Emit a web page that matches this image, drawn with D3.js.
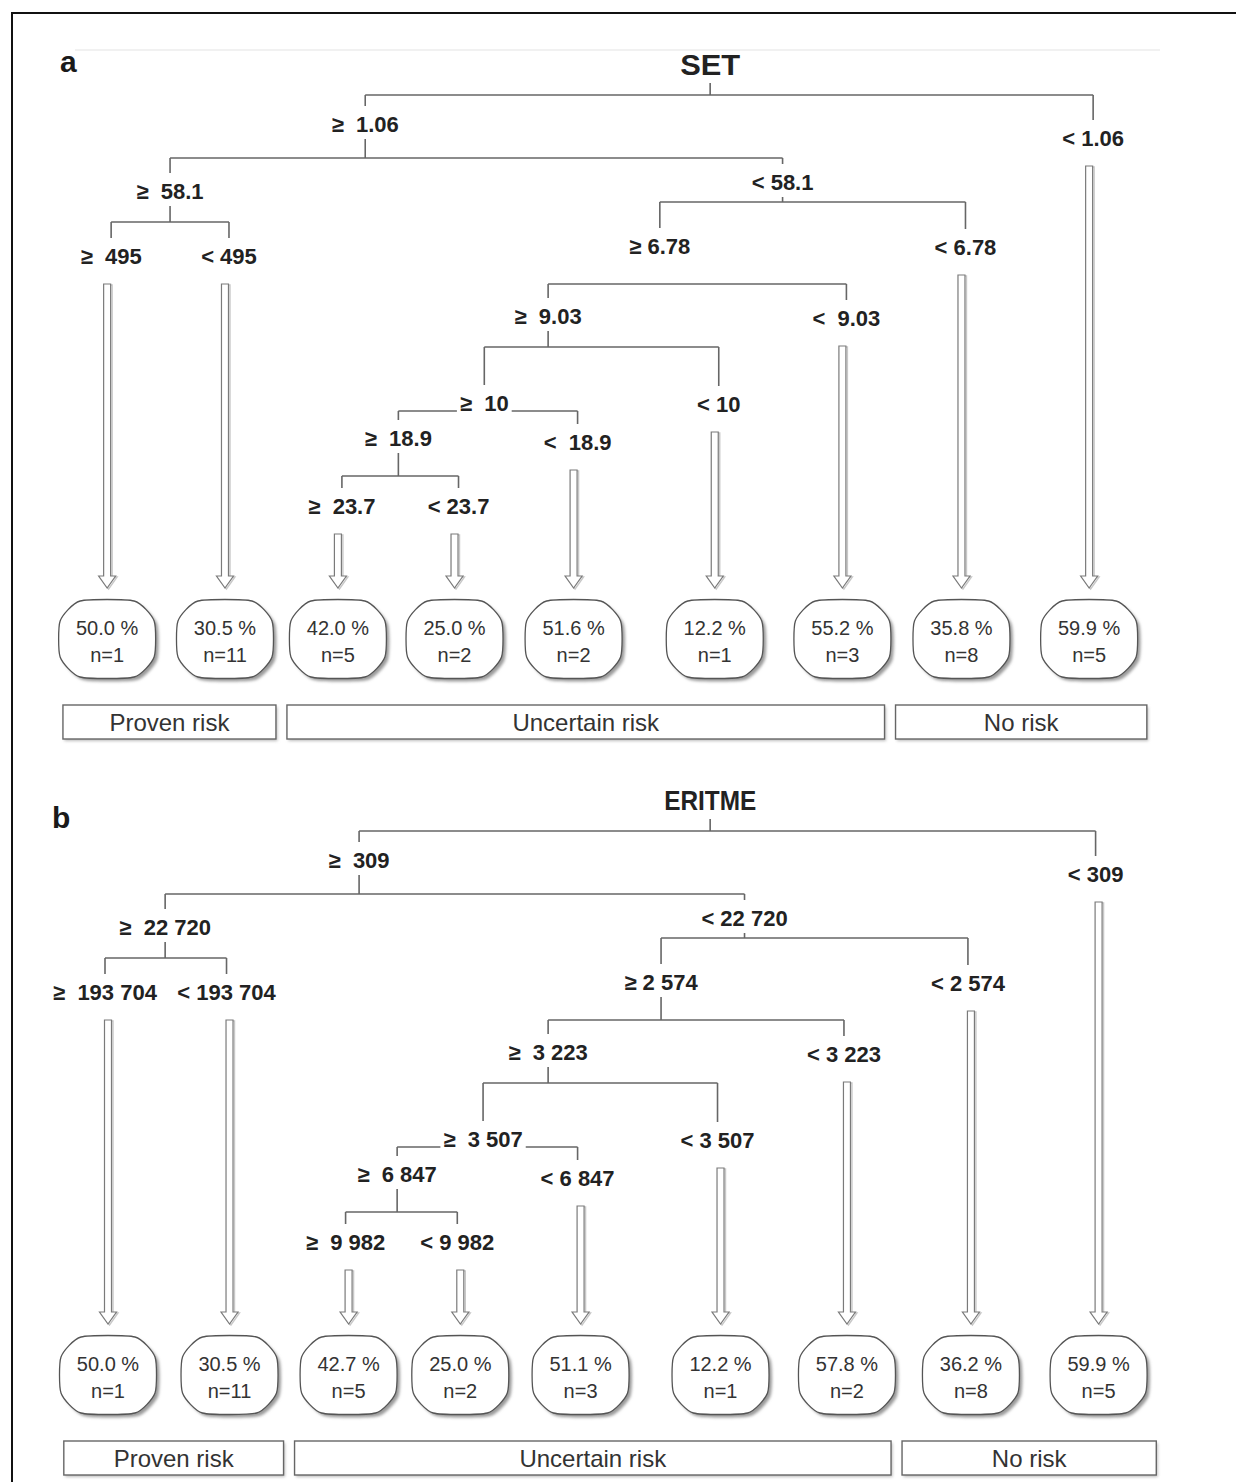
<!DOCTYPE html>
<html>
<head>
<meta charset="utf-8">
<script src="https://cdn.jsdelivr.net/npm/d3@7"></script>
<style>
  body { margin: 0; background: #fff; }
  svg text { font-family: "Liberation Sans", Arial, sans-serif; white-space: pre; }
</style>
</head>
<body>
<svg id="chart" width="1236" height="1482"></svg>
<script>
// tree shape, same for both panels: parent of each node (-1 = root)
var parentOf = [-1, 0, 0, 1, 1, 3, 3, 4, 4, 7, 7, 9, 9, 11, 11, 13, 13];
// terminal nodes, left to right
var leafNodes = [5, 6, 15, 16, 14, 12, 10, 8, 2];

var setLabels = ["SET", "\u2265  1.06", "< 1.06", "\u2265  58.1", "< 58.1", "\u2265  495", "< 495",
  "\u2265 6.78", "< 6.78", "\u2265  9.03", "<  9.03", "\u2265  10", "< 10", "\u2265  18.9", "<  18.9",
  "\u2265  23.7", "< 23.7"];
var setPct = [50.0, 30.5, 42.0, 25.0, 51.6, 12.2, 55.2, 35.8, 59.9];
var setN = [1, 11, 5, 2, 2, 1, 3, 8, 5];

var eritmeLabels = ["ERITME", "\u2265  309", "< 309", "\u2265  22 720", "< 22 720", "\u2265  193 704", "< 193 704",
  "\u2265 2 574", "< 2 574", "\u2265  3 223", "< 3 223", "\u2265  3 507", "< 3 507", "\u2265  6 847", "< 6 847",
  "\u2265  9 982", "< 9 982"];
var eritmePct = [50.0, 30.5, 42.7, 25.0, 51.1, 12.2, 57.8, 36.2, 59.9];
var eritmeN = [1, 11, 5, 2, 3, 1, 2, 8, 5];

var riskGroups = ["Proven risk", "Uncertain risk", "No risk"];
var riskFirstLeaf = [0, 2, 7];
var riskLastLeaf = [1, 6, 8];

// layout only: horizontal slot of every node in leaf-column units
var setCol = [4.93, 2.12, 8.05, 0.53, 5.52, 0.05, 1.01, 4.52, 7.01, 3.61, 6.04, 3.09, 5.0, 2.39, 3.85, 1.93, 2.88];
var eritmeCol = [4.93, 2.07, 8.07, 0.49, 5.21, 0.0, 0.99, 4.53, 7.03, 3.61, 6.02, 3.08, 4.99, 2.38, 3.85, 1.96, 2.87];
// label row and row of the bracket under each split (panel units)
var labelRow = [64, 124, 138, 191, 182, 256, 256, 246, 247, 316, 318, 403, 404, 438, 442, 506, 506];
var bracketRow = [95, 158, null, 222, 202, null, null, 284, null, 347, null, 411, null, 476, null, null, null];
// where the gap between two neighbouring risk boxes sits (fraction of the leaf step)
var riskGapAt = [0.5, 0.4];

var panels = [
  { tag: "a", tagX: 60, tagRow: 72, labels: setLabels, pct: setPct, n: setN, col: setCol,
    top: 0, arrowDx: -4, noStem: [7], titleSize: 30, titleLen: 60 },
  { tag: "b", tagX: 52, tagRow: 92, labels: eritmeLabels, pct: eritmePct, n: eritmeN, col: eritmeCol,
    top: 736, arrowDx: 3, noStem: [], titleSize: 28, titleLen: 92 }
];

var svg = d3.select("#chart");
var defs = svg.append("defs");
defs.append("filter").attr("id", "soft").append("feGaussianBlur").attr("stdDeviation", 1.4);

// frame of the figure
svg.append("rect").attr("x", 12).attr("y", 13).attr("width", 1240).attr("height", 1490)
  .attr("fill", "none").attr("stroke", "#111").attr("stroke-width", 2);
svg.append("line").attr("x1", 75).attr("x2", 1160).attr("y1", 50).attr("y2", 50)
  .attr("stroke", "#ececec").attr("stroke-width", 1.5);

var lineColor = "#666";

function leafBox(cx, top, w, h) {
  var c = 20, x0 = cx - w / 2, x1 = cx + w / 2, y1 = top + h;
  var pts = [[x0 + c, top], [x1 - c, top], [x1, top + c], [x1, y1 - c],
             [x1 - c, y1], [x0 + c, y1], [x0, y1 - c], [x0, top + c]];
  return d3.line().curve(d3.curveCardinalClosed.tension(0.4))(pts);
}

function arrowPath(ax, y0, tip) {
  var s = 3.5, hw = 8.5, hh = 12;
  return d3.line()([[ax - s, y0], [ax - s, tip - hh], [ax - hw, tip - hh], [ax, tip],
    [ax + hw, tip - hh], [ax + s, tip - hh], [ax + s, y0]]) + "Z";
}

function drawPanel(p) {
  var x = d3.scaleLinear().domain([0, 8]).range([105, 1087]);
  var y = d3.scaleLinear().domain([0, 740]).range([p.top, p.top + 740]);
  var g = svg.append("g");

  g.append("text").attr("x", p.tagX).attr("y", y(p.tagRow))
    .attr("font-size", 30).attr("font-weight", "bold").attr("fill", "#1a1a1a").text(p.tag);

  // split labels
  var widths = [];
  g.selectAll("text.split").data(p.labels).enter().append("text")
    .attr("class", "split")
    .attr("x", function (d, i) { return x(p.col[i]); })
    .attr("y", function (d, i) { return y(labelRow[i]); })
    .attr("dy", "0.36em")
    .attr("text-anchor", "middle")
    .attr("font-weight", "bold")
    .attr("font-size", function (d, i) { return i === 0 ? p.titleSize : 22; })
    .attr("fill", "#222")
    .text(function (d) { return d; })
    .each(function (d, i) {
      if (i === 0) {
        d3.select(this).attr("textLength", p.titleLen).attr("lengthAdjust", "spacingAndGlyphs");
      }
      widths[i] = this.getComputedTextLength();
    });

  var links = g.append("g").attr("stroke", lineColor).attr("stroke-width", 1.6).attr("fill", "none");

  bracketRow.forEach(function (br, i) {
    if (br === null) return;
    var kids = d3.range(parentOf.length).filter(function (k) { return parentOf[k] === i; });
    var cx = x(p.col[i]);
    var xl = x(p.col[kids[0]]), xr = x(p.col[kids[1]]);
    var close = br - labelRow[i] < 20;
    if (!close && p.noStem.indexOf(i) < 0) {
      links.append("line").attr("x1", cx).attr("x2", cx)
        .attr("y1", y(labelRow[i] + (i === 0 ? 19 : 15))).attr("y2", y(br));
    }
    if (close) {
      // bracket runs at label height: break it around the text
      var w = widths[i] / 2 + 3;
      links.append("line").attr("x1", xl).attr("x2", cx - w).attr("y1", y(br)).attr("y2", y(br));
      links.append("line").attr("x1", cx + w).attr("x2", xr).attr("y1", y(br)).attr("y2", y(br));
    } else {
      links.append("line").attr("x1", xl).attr("x2", xr).attr("y1", y(br)).attr("y2", y(br));
    }
    kids.forEach(function (k) {
      links.append("line").attr("x1", x(p.col[k])).attr("x2", x(p.col[k]))
        .attr("y1", y(br)).attr("y2", y(labelRow[k] - 18));
    });
  });

  // hollow arrows and terminal boxes
  var leafX = leafNodes.map(function (k) { return x(p.col[k]) + p.arrowDx; });

  var arrows = g.append("g");
  leafNodes.forEach(function (k, j) {
    var d = arrowPath(leafX[j], y(labelRow[k] + 28), y(588));
    arrows.append("path").attr("d", d).attr("transform", "translate(1.5,1)")
      .attr("fill", "none").attr("stroke", "#c8c8c8").attr("stroke-width", 1.4);
    arrows.append("path").attr("d", d).attr("fill", "#fff")
      .attr("stroke", "#7a7a7a").attr("stroke-width", 1.2);
  });

  var boxes = g.selectAll("g.leaf").data(leafNodes).enter().append("g").attr("class", "leaf");
  boxes.append("path")
    .attr("d", function (k, j) { return leafBox(leafX[j], y(601), 94, 76); })
    .attr("transform", "translate(3,3)")
    .attr("fill", "#9a9a9a").attr("filter", "url(#soft)");
  boxes.append("path")
    .attr("d", function (k, j) { return leafBox(leafX[j], y(601), 94, 76); })
    .attr("fill", "#fff").attr("stroke", "#555").attr("stroke-width", 1.3);
  boxes.append("text")
    .attr("x", function (k, j) { return leafX[j]; })
    .attr("y", y(628)).attr("dy", "0.36em").attr("text-anchor", "middle")
    .attr("font-size", 20).attr("fill", "#333")
    .text(function (k, j) { return p.pct[j].toFixed(1) + " %"; });
  boxes.append("text")
    .attr("x", function (k, j) { return leafX[j]; })
    .attr("y", y(655)).attr("dy", "0.36em").attr("text-anchor", "middle")
    .attr("font-size", 20).attr("fill", "#333")
    .text(function (k, j) { return "n=" + p.n[j]; });

  // risk groups under the terminal boxes
  var step = x(1) - x(0);
  var groups = g.selectAll("g.risk").data(riskGroups).enter().append("g").attr("class", "risk");
  function gx0(i) {
    var f = riskFirstLeaf[i];
    if (f === 0) return leafX[0] - 0.36 * step;
    var t = riskGapAt[i - 1];
    return leafX[f - 1] + t * (leafX[f] - leafX[f - 1]) + 5.5;
  }
  function gx1(i) {
    var l = riskLastLeaf[i];
    if (l === leafNodes.length - 1) return leafX[l] + 0.47 * step;
    var t = riskGapAt[i];
    return leafX[l] + t * (leafX[l + 1] - leafX[l]) - 5.5;
  }
  groups.append("rect")
    .attr("x", function (d, i) { return gx0(i) + 1.5; })
    .attr("y", y(705) + 2)
    .attr("width", function (d, i) { return gx1(i) - gx0(i); })
    .attr("height", 34)
    .attr("fill", "#bdbdbd").attr("filter", "url(#soft)");
  groups.append("rect")
    .attr("x", function (d, i) { return gx0(i); })
    .attr("y", y(705))
    .attr("width", function (d, i) { return gx1(i) - gx0(i); })
    .attr("height", 34)
    .attr("fill", "#fff").attr("stroke", "#666").attr("stroke-width", 1.4);
  groups.append("text")
    .attr("x", function (d, i) { return (gx0(i) + gx1(i)) / 2; })
    .attr("y", y(722)).attr("dy", "0.36em").attr("text-anchor", "middle")
    .attr("font-size", 24).attr("fill", "#333")
    .text(function (d) { return d; });
}

panels.forEach(drawPanel);
</script>
</body>
</html>
